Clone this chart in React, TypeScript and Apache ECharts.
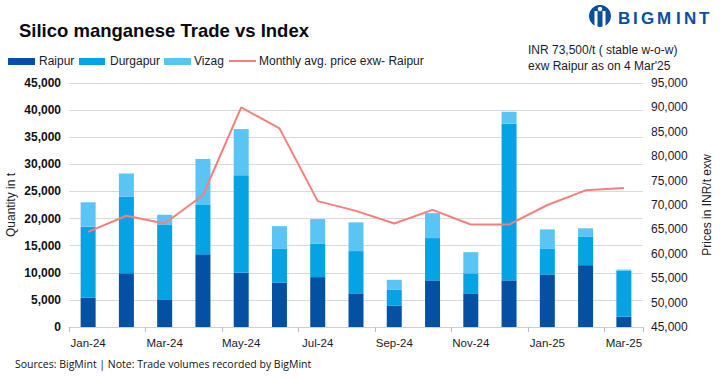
import React, { useEffect, useRef } from "react";
import * as echarts from "echarts";

const categories = ["Jan-24","Feb-24","Mar-24","Apr-24","May-24","Jun-24","Jul-24","Aug-24","Sep-24","Oct-24","Nov-24","Dec-24","Jan-25","Feb-25","Mar-25"];
const raipur = [5400,9900,5000,13400,10000,8200,9200,6200,3900,8600,6200,8600,9700,11400,1900];
const durgapur = [13100,14100,13800,9100,18000,6200,6200,7800,3000,7800,3700,28900,4700,5300,8500];
const vizag = [4500,4300,1900,8500,8500,4200,4500,5300,1800,4600,3900,2200,3600,1500,200];
const price = [64500,67800,66200,72000,90000,85700,70800,68800,66200,69000,66000,66000,70000,73000,73500];
const logoLetters = ["B","I","G","M","I","N","T"];

const FONT = "'Liberation Sans', Arial, sans-serif";
const INK = "#1a1a2a";

export default function App() {
  const ref = useRef<HTMLDivElement>(null);
  useEffect(() => {
    document.body.style.margin = "0";
    const chart = echarts.init(ref.current!, undefined, { renderer: "svg" });
    const logoX = [618, 633, 641, 657, 676, 684, 699];
    chart.setOption({
      animation: false,
      backgroundColor: "#fff",
      textStyle: { fontFamily: FONT },
      grid: { left: 69, right: 77, top: 83, bottom: 50, containLabel: false, outerBoundsMode: "none" },
      legend: { show: false },
      xAxis: {
        type: "category",
        data: categories,
        axisLine: { lineStyle: { color: "#cfcfcf", width: 1 } },
        axisTick: { show: true, alignWithLabel: false, interval: 1, length: 5, lineStyle: { color: "#bdbdbd", width: 1 } },
        axisLabel: { interval: 1, color: INK, fontSize: 11.5, margin: 10, hideOverlap: false, fontFamily: FONT },
      },
      yAxis: [
        {
          type: "value", min: 0, max: 45000, interval: 5000,
          name: "Quantity in t", nameLocation: "middle", nameGap: 52, nameRotate: 90, nameMoveOverlap: false,
          nameTextStyle: { color: INK, fontSize: 12 },
          axisLabel: { color: "#111", fontSize: 12, fontWeight: "bold", margin: 8,
            formatter: (v: number) => v.toLocaleString("en-US") },
          axisLine: { show: false }, axisTick: { show: false },
          splitLine: { lineStyle: { color: "#d9d9d9", width: 1 } },
        },
        {
          type: "value", min: 45000, max: 95000, interval: 5000,
          name: "Prices in INR/t exw", nameLocation: "middle", nameGap: 58, nameRotate: 90, nameMoveOverlap: false,
          nameTextStyle: { color: INK, fontSize: 12 },
          axisLabel: { color: INK, fontSize: 12, margin: 8,
            formatter: (v: number) => v.toLocaleString("en-US") },
          axisLine: { show: false }, axisTick: { show: false }, splitLine: { show: false },
        },
      ],
      series: [
        { name: "Raipur", type: "bar", stack: "q", barWidth: 15, data: raipur, itemStyle: { color: "#0450a2" } },
        { name: "Durgapur", type: "bar", stack: "q", barWidth: 15, data: durgapur, itemStyle: { color: "#05a3e3" } },
        { name: "Vizag", type: "bar", stack: "q", barWidth: 15, data: vizag, itemStyle: { color: "#5ac4f5" } },
        { name: "Monthly avg. price exw- Raipur", type: "line", yAxisIndex: 1, data: price, symbol: "none",
          lineStyle: { color: "#f57f7c", width: 2 }, itemStyle: { color: "#f57f7c" } },
      ],
      graphic: [
        { type: "text", x: 19, y: 21, style: { text: "Silico manganese Trade vs Index", font: `bold 18.5px ${FONT}`, fill: "#0a0a14" } },
        { type: "rect", shape: { x: 8, y: 58, width: 27, height: 7 }, style: { fill: "#0450a2" } },
        { type: "text", x: 39, y: 55, style: { text: "Raipur", font: `12px ${FONT}`, fill: INK } },
        { type: "rect", shape: { x: 79, y: 58, width: 26, height: 7 }, style: { fill: "#05a3e3" } },
        { type: "text", x: 110, y: 55, style: { text: "Durgapur", font: `12px ${FONT}`, fill: INK } },
        { type: "rect", shape: { x: 164, y: 58, width: 27, height: 7 }, style: { fill: "#5ac4f5" } },
        { type: "text", x: 194, y: 55, style: { text: "Vizag", font: `12px ${FONT}`, fill: INK } },
        { type: "line", shape: { x1: 229, y1: 61, x2: 256, y2: 61 }, style: { stroke: "#f57f7c", lineWidth: 2 } },
        { type: "text", x: 259, y: 55, style: { text: "Monthly avg. price exw- Raipur", font: `12px ${FONT}`, fill: INK } },
        { type: "text", x: 528, y: 44, style: { text: "INR 73,500/t ( stable w-o-w)", font: `12px ${FONT}`, fill: INK } },
        { type: "text", x: 528, y: 60, style: { text: "exw Raipur as on 4 Mar'25", font: `12px ${FONT}`, fill: INK } },
        { type: "text", x: 15, y: 358, style: { text: "Sources: BigMint | Note: Trade volumes recorded by BigMint", font: `10.5px 'Open Sans', ${FONT}`, fill: "#111" } },
        { type: "circle", shape: { cx: 600, cy: 16, r: 11 }, style: { fill: "#0a4ea2" } },
        { type: "circle", shape: { cx: 600, cy: 9, r: 2.2 }, style: { fill: "#fff" } },
        { type: "rect", shape: { x: 594.5, y: 11, width: 3, height: 16 }, style: { fill: "#fff" } },
        { type: "rect", shape: { x: 602.5, y: 11, width: 3, height: 16 }, style: { fill: "#fff" } },
        ...logoLetters.map((ch, i) => ({
          type: "text", x: logoX[i], y: 10,
          style: { text: ch, font: `900 17px ${FONT}`, fill: "#0a4ea2" },
        })),
      ],
    });
    return () => chart.dispose();
  }, []);
  return <div ref={ref} style={{ width: 720, height: 377 }} />;
}
